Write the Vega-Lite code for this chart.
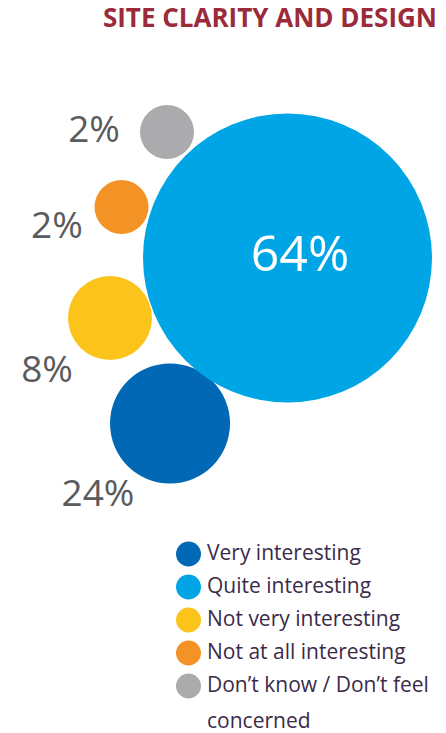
{
  "$schema": "https://vega.github.io/schema/vega-lite/v6.json",
  "width": 446,
  "height": 693,
  "autosize": {"type": "none"},
  "padding": {"left": 0, "right": 0, "top": 40, "bottom": 0},
  "background": "white",
  "config": {"view": {"stroke": null}},
  "title": {
    "text": "SITE CLARITY AND DESIGN",
    "anchor": "end",
    "dx": -9,
    "offset": 8,
    "font": "Open Sans",
    "fontSize": 26,
    "fontWeight": "bold",
    "color": "#9b2a3b"
  },
  "data": {
    "values": [
      {"category": "Very interesting", "value": 24, "label": "24%", "cx": 38.12, "cy": 55.34, "lx": 21.97, "ly": 65.66},
      {"category": "Quite interesting", "value": 64, "label": "64%", "cx": 64.46, "cy": 31.46, "lx": 67.26, "ly": 31.17},
      {"category": "Not very interesting", "value": 8, "label": "8%", "cx": 24.66, "cy": 40.12, "lx": 10.54, "ly": 47.76},
      {"category": "Not at all interesting", "value": 2, "label": "2%", "cx": 27.24, "cy": 24.1, "lx": 12.78, "ly": 26.98},
      {"category": "Don’t know / Don’t feel concerned", "value": 2, "label": "2%", "cx": 37.44, "cy": 13.28, "lx": 21.08, "ly": 13.13}
    ]
  },
  "layer": [
    {
      "mark": {"type": "circle", "opacity": 1, "strokeWidth": 0},
      "encoding": {
        "x": {"field": "cx", "type": "quantitative", "axis": null, "scale": {"domain": [0, 100], "nice": false, "zero": false}},
        "y": {"field": "cy", "type": "quantitative", "axis": null, "scale": {"domain": [0, 100], "nice": false, "zero": false, "reverse": true}},
        "size": {
          "field": "value", "type": "quantitative", "legend": null,
          "scale": {"type": "linear", "domain": [2, 8, 24, 64], "range": [2916, 7056, 14400, 83521], "zero": false, "nice": false}
        },
        "color": {
          "field": "category", "type": "nominal",
          "scale": {
            "domain": ["Very interesting", "Quite interesting", "Not very interesting", "Not at all interesting", "Don’t know / Don’t feel concerned"],
            "range": ["#0068b4", "#00a5e6", "#fcc41a", "#f39325", "#ababad"]
          },
          "legend": {
            "orient": "none",
            "legendX": 176,
            "legendY": 501.5,
            "title": null,
            "symbolType": "circle",
            "symbolSize": 625,
            "symbolStrokeWidth": 0,
            "symbolOpacity": 1,
            "labelFont": "Open Sans",
            "labelFontSize": 21,
            "labelColor": "#3b2a48",
            "labelOffset": 6,
            "labelLimit": 400,
            "rowPadding": 8,
            "padding": 0,
            "labelExpr": "datum.label == 'Don’t know / Don’t feel concerned' ? ['Don’t know / Don’t feel', 'concerned'] : datum.label",
            "encode": {"labels": {"update": {"lineHeight": {"value": 36}}}}
          }
        }
      }
    },
    {
      "mark": {"type": "text", "font": "Open Sans", "baseline": "middle", "align": "center"},
      "encoding": {
        "x": {"field": "lx", "type": "quantitative"},
        "y": {"field": "ly", "type": "quantitative"},
        "text": {"field": "label"},
        "size": {"condition": {"test": "datum.value == 64", "value": 50}, "value": 37},
        "color": {"condition": {"test": "datum.value == 64", "value": "#ffffff"}, "value": "#5a5b5d"}
      }
    }
  ]
}
